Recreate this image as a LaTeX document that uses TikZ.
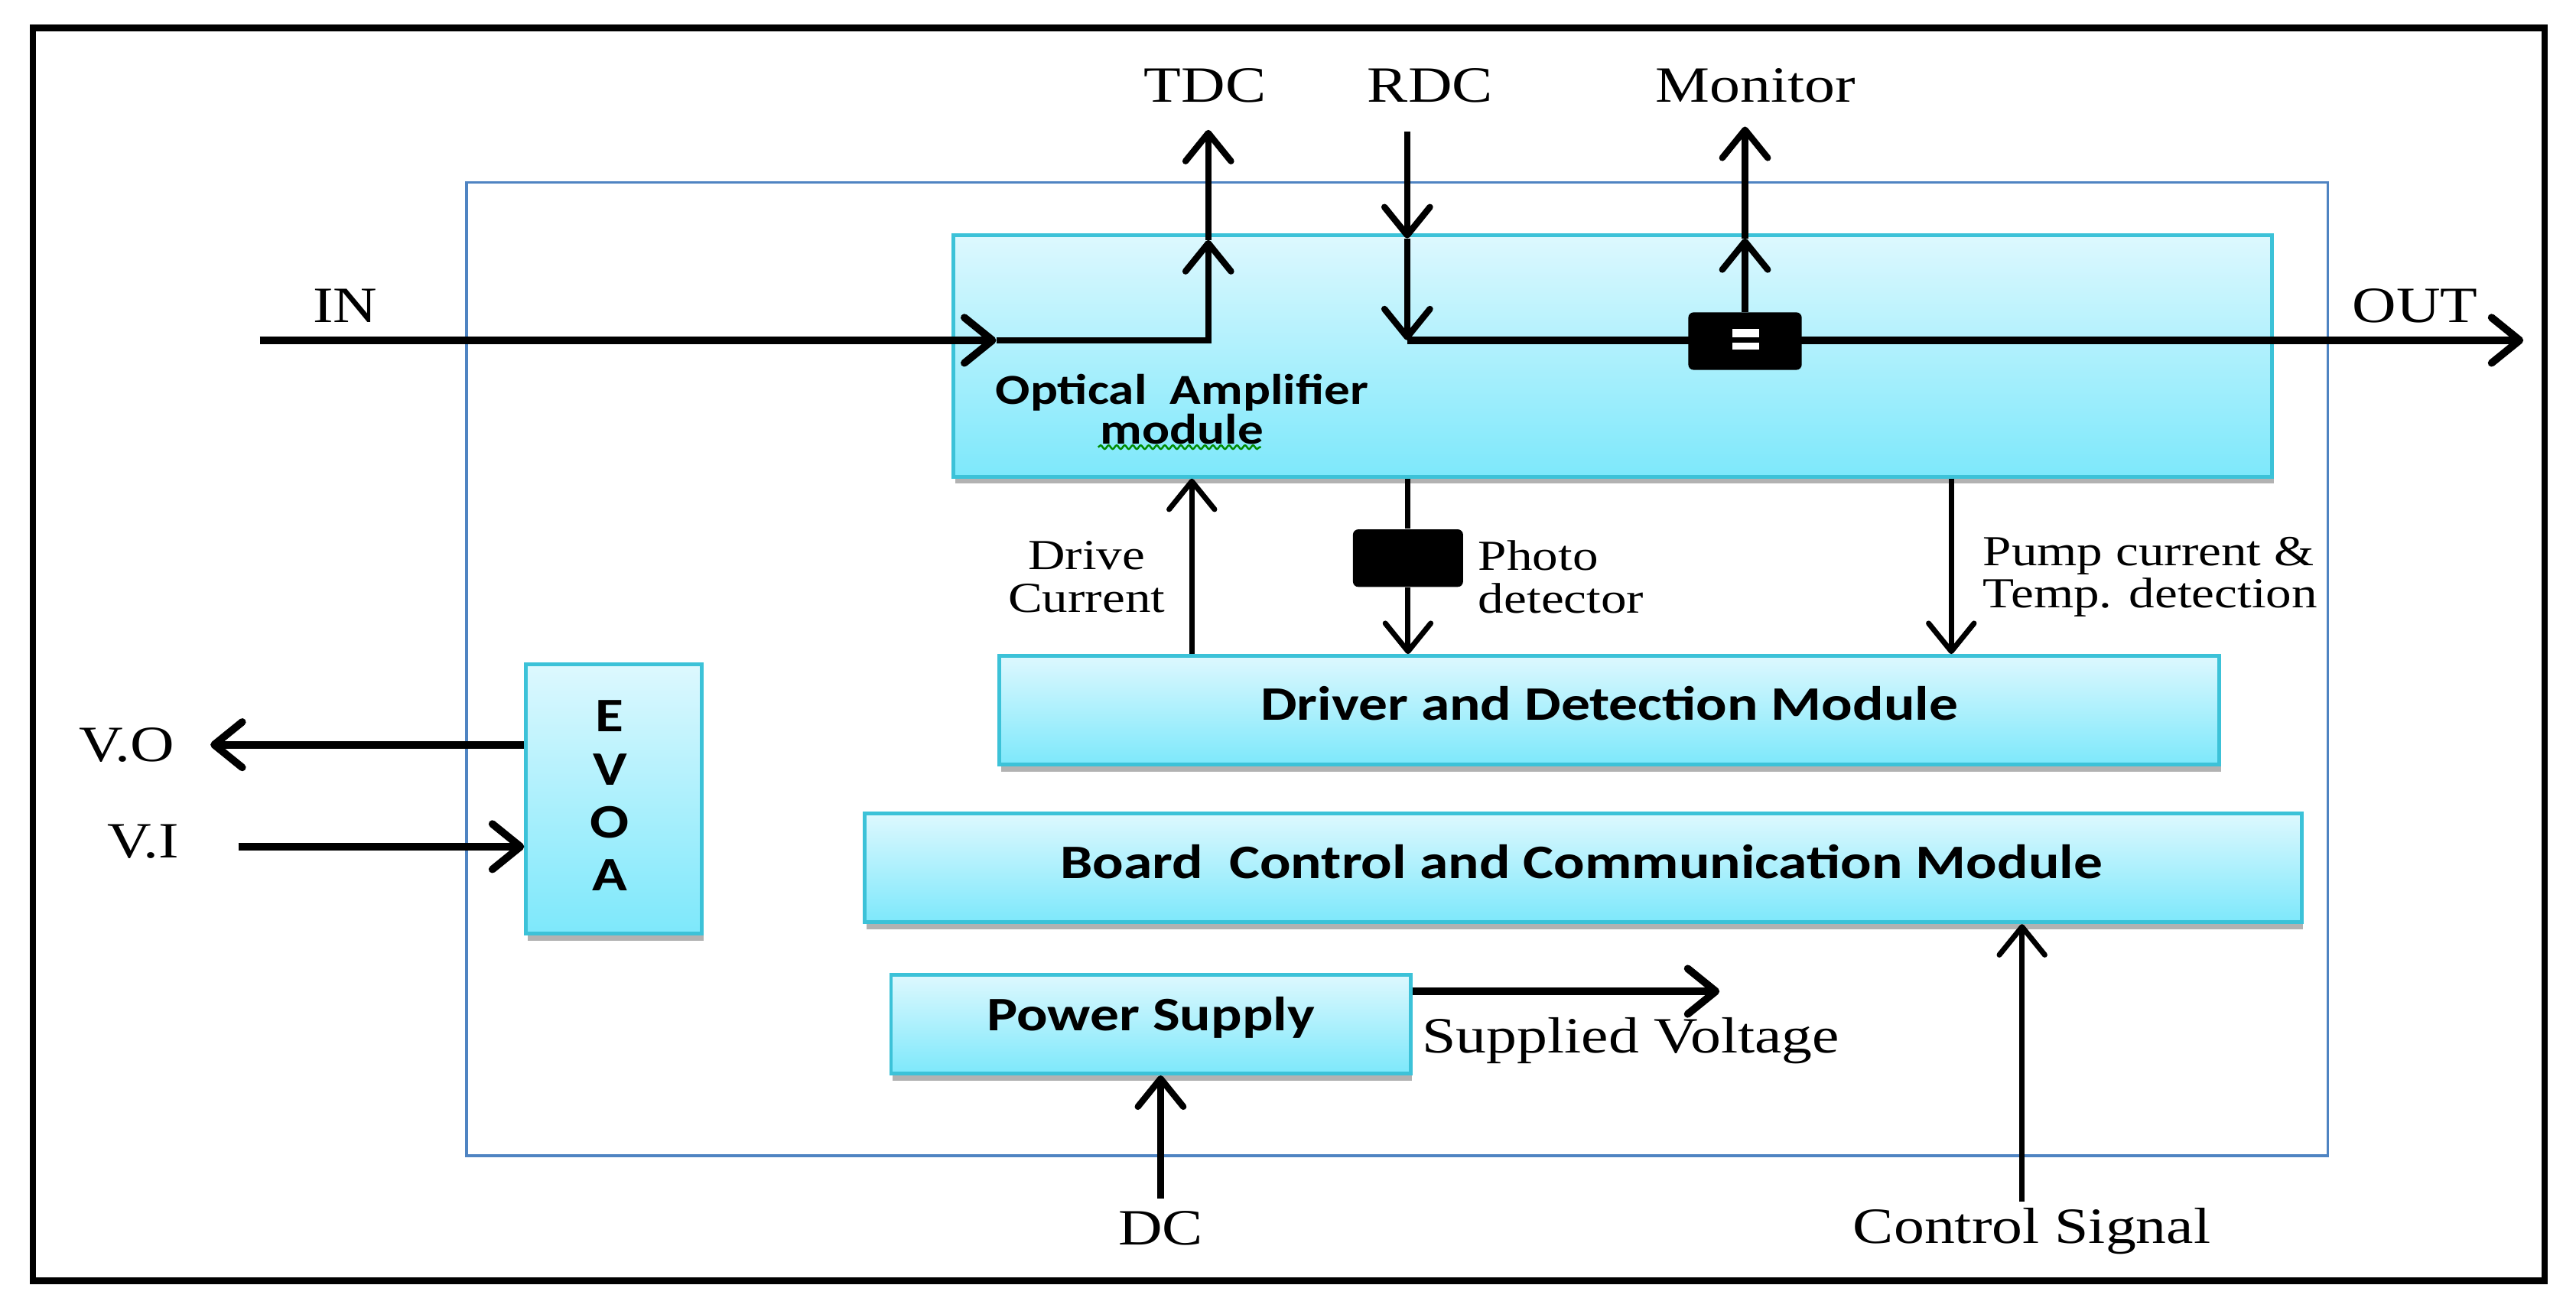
\documentclass[tikz,border=0pt]{standalone}
\usepackage{fontspec}
\setmainfont{Liberation Serif}
\newfontfamily\lblfont[FakeStretch=1.2]{Liberation Serif}
\newfontfamily\bxfont[FakeStretch=1.2]{Carlito}
\usetikzlibrary{arrows.meta,shadows,fit,decorations.pathmorphing}
\definecolor{boxtop}{HTML}{DDF8FE}
\definecolor{boxbot}{HTML}{7DE8FB}
\definecolor{boxline}{HTML}{3CC2D8}
\definecolor{contline}{HTML}{4F84C2}
\tikzset{
  frame/.style={draw=black, line width=2.4pt},
  container/.style={draw=contline, line width=1.1pt, inner sep=0pt},
  box/.style={draw=boxline, line width=1.4pt, top color=boxtop, bottom color=boxbot, inner sep=0pt,
    drop shadow={shadow xshift=0.6pt, shadow yshift=-2.6pt, opacity=0.3, fill=black}},
  blk/.style={fill=black, rounded corners=2pt, inner sep=0pt},
  arrbase/.style={-{Straight Barb[round, length=10.5pt, width=17pt]}},
  arrthick/.style={arrbase, line width=2.8pt},
  arrmid/.style={arrbase, line width=2.4pt},
  arrthin/.style={arrbase, line width=2.0pt},
  lbl/.style={font=\lblfont\fontsize{19}{22}\selectfont, inner sep=0pt},
  slbl/.style={font=\lblfont\fontsize{16}{15.9}\selectfont, inner sep=0pt},
  btext/.style={font=\bxfont\bfseries\fontsize{18}{20}\selectfont, inner sep=0pt},
  stext/.style={font=\bxfont\bfseries\fontsize{16}{13.5}\selectfont, inner sep=0pt},
}
\begin{document}
\begin{tikzpicture}[x=0.0216cm,y=-0.0216cm]
\useasboundingbox (0,0) rectangle (1567,797);
\draw[frame] (20,17) rectangle (1548,779);
\node[container, fit={(284,111) (1416,703)}] (cont) {};

% boxes
\node[box, fit={(580,143) (1382,290)}] (oa) {};
\node[box, fit={(608,399) (1350,465)}] (dd) {};
\node[box, fit={(526,495) (1400,561)}] (bc) {};
\node[box, fit={(542,593) (858,653)}] (ps) {};
\node[box, fit={(320,404) (427,568)}] (evoa) {};

% box texts
\node[stext, align=center] (oat) at (719,249) {Optical\ \ Amplifier\\module};
\draw[green!55!black, line width=0.7pt, decorate, decoration={snake, amplitude=0.7pt, segment length=3pt}] (668,272) -- (767,272);
\node[btext] (ddt) at (979,428) {Driver and Detection Module};
\node[btext] (bct) at (962,524) {Board\ \ Control and Communication Module};
\node[btext] (pst) at (700,619) {Power Supply};
\node[btext, align=center, font=\bxfont\bfseries\fontsize{18}{19.8}\selectfont] (evt) at (371,484) {E\\V\\O\\A};

% coordinates
\coordinate (inS) at (158,207);
\coordinate (inM) at (606,207);
\coordinate (tdcC) at (735,207);
\coordinate (tdcM) at (735,146);
\coordinate (tdcT) at (735,79);
\coordinate (rdcT) at (856,80);
\coordinate (rdcM) at (856,145);
\coordinate (rdcC) at (856,207);
\coordinate (outT) at (1535,207);
\coordinate (monM) at (1061.5,145);
\coordinate (monT) at (1061.5,77);
\coordinate (drvx) at (725,0);
\coordinate (pumpx) at (1187,0);
\coordinate (dcx) at (706,0);
\coordinate (csx) at (1230,0);
\coordinate (voT) at (128,453);
\coordinate (viS) at (145,515);
\coordinate (svT) at (1046,603);
\coordinate (dcS) at (706,729);
\coordinate (csS) at (1230,731);

% labels
\node[lbl] (tdc) at (733,52) {TDC};
\node[lbl] (rdc) at (870,52) {RDC};
\node[lbl] (mon) at (1068,52) {Monitor};
\node[lbl] (in) at (210,186) {IN};
\node[lbl] (out) at (1469,186) {OUT};
\node[lbl] (vo) at (77,453) {V.O};
\node[lbl] (vi) at (87,512) {V.I};
\node[lbl] (dc) at (706,747) {DC};
\node[lbl] (cs) at (1236,749) {Control Signal};
\node[lbl] (sv) at (992,633) {Supplied Voltage};
\node[slbl, align=center] (drv) at (661,351) {Drive\\Current};
\node[slbl, align=left, anchor=west] (pdl) at (899,351) {Photo\\detector};
\node[slbl, align=left, anchor=west] (pump) at (1206,351) {Pump current \&\\Temp. detection};

% optical path
\draw[arrthick] (inS) -- (inM);
\draw[arrmid, line join=miter] (inM) -- (tdcC) -- (tdcM);
\draw[arrmid] (tdcM) -- (tdcT);
\draw[arrmid] (rdcT) -- (rdcM);
\draw[arrmid] (rdcM) -- (rdcC);
\draw[arrthick] (rdcC) -- (outT);

% coupler
\node[blk, fit={(1027,190) (1096,225)}] (cp) {};
\fill[white] (1054,200) rectangle (1070,205.3);
\fill[white] (1054,208.4) rectangle (1070,212.5);
\draw[arrmid] (cp.north) -- (monM);
\draw[arrmid] (monM) -- (monT);

% between OA and driver
\draw[arrthin] (dd.north -| drvx) -- (oa.south -| drvx);
\node[blk, fit={(823,322) (890,357)}] (pd) {};
\draw[line width=2.0pt] (oa.south -| pd.north) -- (pd.north);
\draw[arrthin] (pd.south) -- (dd.north -| pd.south);
\draw[arrthin] (oa.south -| pumpx) -- (dd.north -| pumpx);

% EVOA
\draw[arrthick] (evoa.west |- voT) -- (voT);
\draw[arrthick] (viS) -- (evoa.west |- viS);

% power and control
\draw[arrthick] (ps.east |- svT) -- (svT);
\draw[arrmid] (dcS) -- (ps.south -| dcx);
\draw[arrthin] (csS) -- (bc.south -| csx);
\end{tikzpicture}
\end{document}
